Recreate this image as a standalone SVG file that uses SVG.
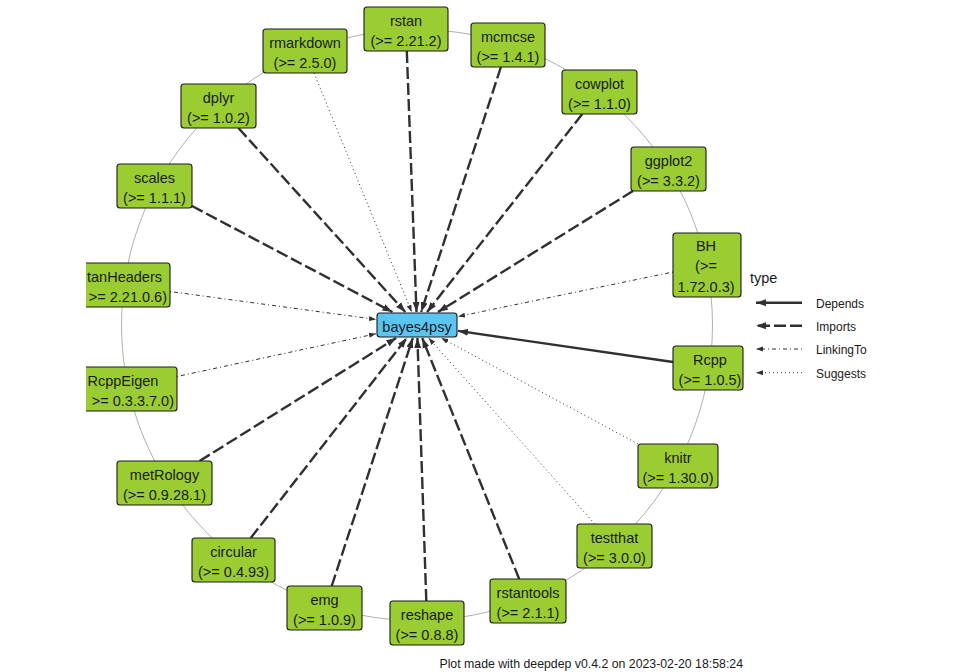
<svg xmlns="http://www.w3.org/2000/svg" width="960" height="672" viewBox="0 0 960 672">
<defs>
<style>
text{font-family:"Liberation Sans",Arial,sans-serif;fill:#1a1a1a}
.lbl{font-size:14.5px;text-anchor:middle}
.node rect{fill:#9ACD32;stroke:#1a1a1a;stroke-width:1.1}
.hub rect{fill:#5BC5F1;stroke:#1a1a1a;stroke-width:1.1}
.e{fill:none;stroke:#303030}
.dep{stroke-width:2.4;marker-end:url(#ab)}
.imp{stroke-width:2.4;stroke-dasharray:12 4;marker-end:url(#ab)}
.lnk{stroke-width:1;stroke-dasharray:1 3 4 3;marker-end:url(#as)}
.sug{stroke-width:1;stroke-dasharray:1 3;marker-end:url(#as)}
.leg{font-size:12px}
</style>
<marker id="ab" markerUnits="userSpaceOnUse" markerWidth="10" markerHeight="8" refX="10" refY="4" orient="auto"><path d="M0,0.5 L10,4 L0,7.5 z" fill="#303030"/></marker>
<marker id="as" markerUnits="userSpaceOnUse" markerWidth="7" markerHeight="6" refX="7" refY="3" orient="auto"><path d="M0,0.5 L7,3 L0,5.5 z" fill="#303030"/></marker>
<clipPath id="panel"><rect x="86" y="0" width="874" height="672"/></clipPath>
</defs>
<rect x="0" y="0" width="960" height="672" fill="#ffffff"/>
<circle cx="417" cy="325" r="295.5" fill="none" stroke="#9a9a9a" stroke-width="0.8"/>
<g id="connectors">
<path class="e imp" d="M406.8,51 L416.5,312"/>
<path class="e imp" d="M500.9,67 L421.2,312"/>
<path class="e imp" d="M582.3,114 L427.1,312"/>
<path class="e imp" d="M633,191 L438,312"/>
<path class="e lnk" d="M673,272 L458,316.5"/>
<path class="e dep" d="M673,362 L458,330.9"/>
<path class="e sug" d="M638,444 L441.2,338"/>
<path class="e sug" d="M594.8,524 L428.6,338"/>
<path class="e imp" d="M519.2,579 L422.2,338"/>
<path class="e imp" d="M426.3,601 L417.4,338"/>
<path class="e imp" d="M331.7,586 L412.8,338"/>
<path class="e imp" d="M250.7,538 L406.8,338"/>
<path class="e imp" d="M199.6,461 L396.2,338"/>
<path class="e lnk" d="M177,376.5 L376,333.8"/>
<path class="e lnk" d="M170,291.5 L376,319.4"/>
<path class="e imp" d="M192,206 L392.5,312"/>
<path class="e imp" d="M238.4,128 L405.3,312"/>
<path class="e sug" d="M314,73 L411.7,312"/>
</g>
<g id="bayes4psy" class="hub"><rect x="377" y="313" width="80" height="24" rx="3"/><text class="lbl" x="417" y="331.5">bayes4psy</text></g>
<g id="rstan" class="node"><rect x="364" y="7" width="84" height="44" rx="3"/><text class="lbl" x="406" y="25.5">rstan</text><text class="lbl" x="406" y="45.5">(&gt;= 2.21.2)</text></g>
<g id="mcmcse" class="node"><rect x="471" y="23" width="74" height="44" rx="3"/><text class="lbl" x="508" y="41.5">mcmcse</text><text class="lbl" x="508" y="61.5">(&gt;= 1.4.1)</text></g>
<g id="cowplot" class="node"><rect x="562" y="70" width="75" height="44" rx="3"/><text class="lbl" x="599.5" y="88.5">cowplot</text><text class="lbl" x="599.5" y="108.5">(&gt;= 1.1.0)</text></g>
<g id="ggplot2" class="node"><rect x="631" y="147" width="75" height="44" rx="3"/><text class="lbl" x="668.5" y="165.5">ggplot2</text><text class="lbl" x="668.5" y="185.5">(&gt;= 3.3.2)</text></g>
<g id="BH" class="node"><rect x="673" y="233" width="68" height="64" rx="3"/><text class="lbl" x="706" y="250.5">BH</text><text class="lbl" x="706" y="271">(&gt;=</text><text class="lbl" x="706" y="291.5">1.72.0.3)</text></g>
<g id="Rcpp" class="node"><rect x="673" y="346" width="70" height="44" rx="3"/><text class="lbl" x="710" y="364.5">Rcpp</text><text class="lbl" x="710" y="384.5">(&gt;= 1.0.5)</text></g>
<g id="knitr" class="node"><rect x="638" y="444" width="80" height="44" rx="3"/><text class="lbl" x="678" y="462.5">knitr</text><text class="lbl" x="678" y="482.5">(&gt;= 1.30.0)</text></g>
<g id="testthat" class="node"><rect x="577" y="524" width="75" height="44" rx="3"/><text class="lbl" x="614.5" y="542.5">testthat</text><text class="lbl" x="614.5" y="562.5">(&gt;= 3.0.0)</text></g>
<g id="rstantools" class="node"><rect x="490" y="579" width="76" height="44" rx="3"/><text class="lbl" x="528" y="597.5">rstantools</text><text class="lbl" x="528" y="617.5">(&gt;= 2.1.1)</text></g>
<g id="reshape" class="node"><rect x="390" y="601" width="74" height="44" rx="3"/><text class="lbl" x="427" y="619.5">reshape</text><text class="lbl" x="427" y="639.5">(&gt;= 0.8.8)</text></g>
<g id="emg" class="node"><rect x="287" y="586" width="75" height="44" rx="3"/><text class="lbl" x="324.5" y="604.5">emg</text><text class="lbl" x="324.5" y="624.5">(&gt;= 1.0.9)</text></g>
<g id="circular" class="node"><rect x="192" y="538" width="83" height="44" rx="3"/><text class="lbl" x="233.5" y="556.5">circular</text><text class="lbl" x="233.5" y="576.5">(&gt;= 0.4.93)</text></g>
<g id="metRology" class="node"><rect x="117" y="461" width="95" height="44" rx="3"/><text class="lbl" x="164.5" y="479.5">metRology</text><text class="lbl" x="164.5" y="499.5">(&gt;= 0.9.28.1)</text></g>
<g id="RcppEigen" class="node" clip-path="url(#panel)"><rect x="60" y="367" width="117" height="44" rx="3"/><text class="lbl" x="87.5" y="385.5" style="text-anchor:start">RcppEigen</text><text class="lbl" x="174" y="405.5" style="text-anchor:end">&gt;= 0.3.3.7.0)</text></g>
<g id="StanHeaders" class="node" clip-path="url(#panel)"><rect x="60" y="263" width="110" height="44" rx="3"/><text class="lbl" x="87" y="281.5" style="text-anchor:start">tanHeaders</text><text class="lbl" x="167" y="301.5" style="text-anchor:end">&gt;= 2.21.0.6)</text></g>
<g id="scales" class="node"><rect x="117" y="164" width="75" height="44" rx="3"/><text class="lbl" x="154.5" y="182.5">scales</text><text class="lbl" x="154.5" y="202.5">(&gt;= 1.1.1)</text></g>
<g id="dplyr" class="node"><rect x="181" y="84" width="75" height="44" rx="3"/><text class="lbl" x="218.5" y="102.5">dplyr</text><text class="lbl" x="218.5" y="122.5">(&gt;= 1.0.2)</text></g>
<g id="rmarkdown" class="node"><rect x="263" y="29" width="84" height="44" rx="3"/><text class="lbl" x="305" y="47.5">rmarkdown</text><text class="lbl" x="305" y="67.5">(&gt;= 2.5.0)</text></g>
<g id="legend">
<text x="750" y="283" style="font-size:14.5px">type</text>
<path class="e dep" d="M802,302.7 L756,302.7"/>
<path class="e imp" d="M802,325.7 L756,325.7"/>
<path class="e lnk" d="M802,349 L756,349"/>
<path class="e sug" d="M802,372.7 L756,372.7"/>
<text class="leg" x="816" y="307.5">Depends</text>
<text class="leg" x="816" y="330.5">Imports</text>
<text class="leg" x="816" y="354">LinkingTo</text>
<text class="leg" x="816" y="377.5">Suggests</text>
</g>
<text x="743" y="668" style="font-size:12.3px;text-anchor:end">Plot made with deepdep v0.4.2 on 2023-02-20 18:58:24</text>
</svg>
